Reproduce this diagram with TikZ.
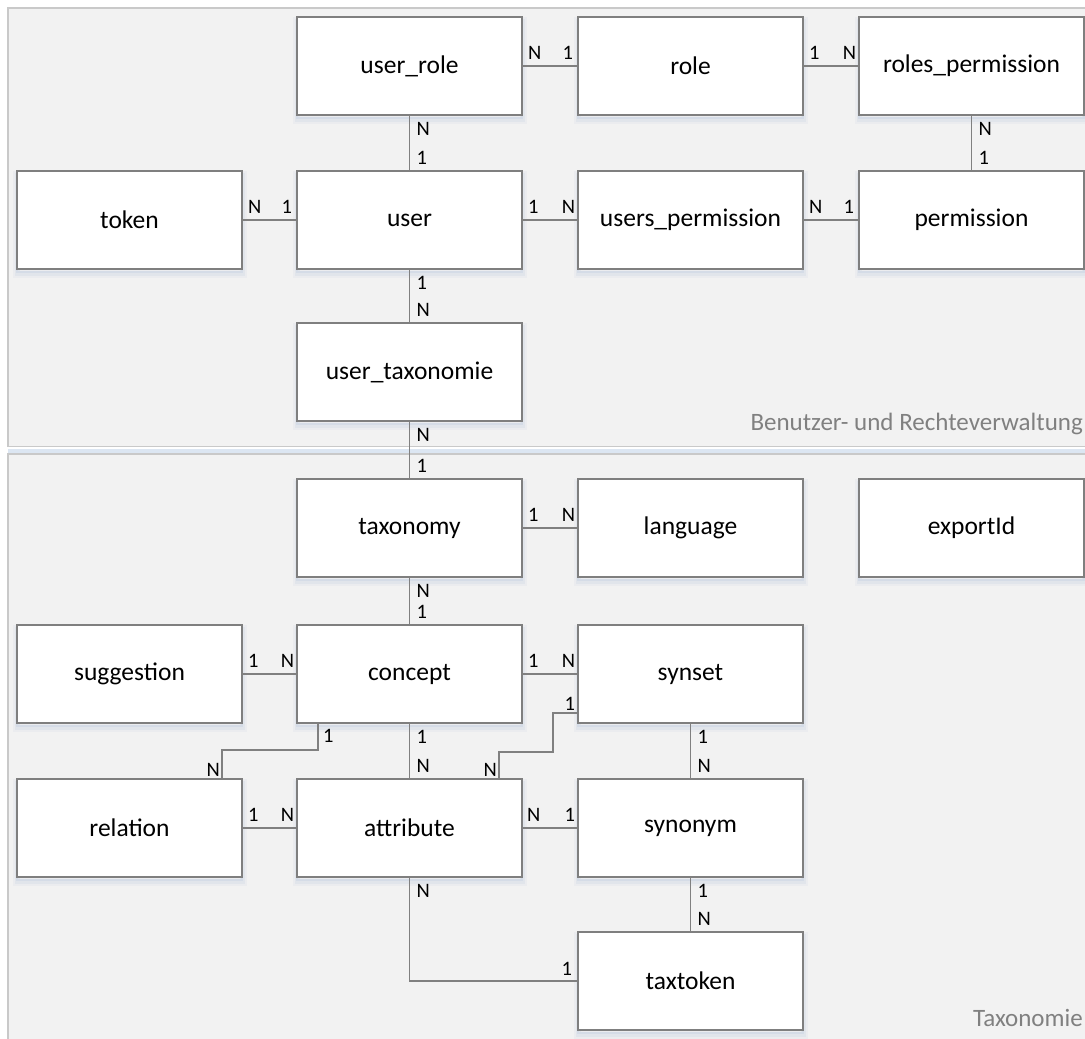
\documentclass[tikz,border=0pt]{standalone}
\usepackage{fontspec}
\setmainfont{Carlito}
\definecolor{panelfill}{HTML}{F2F2F2}
\definecolor{panelline}{HTML}{C9C9C9}
\definecolor{sepblue}{HTML}{DCE6F2}
\definecolor{boxline}{HTML}{7F7F7F}
\definecolor{connline}{HTML}{808080}
\definecolor{shadowcol}{HTML}{8FAAD0}
\definecolor{captiongray}{HTML}{808080}
\begin{document}
\begin{tikzpicture}[x=1pt,y=-1pt,
  boxshadow/.style={
    preaction={draw=shadowcol, line width=9pt, draw opacity=0.07, transform canvas={yshift=-4pt}},
    preaction={draw=shadowcol, line width=5pt, draw opacity=0.10, transform canvas={yshift=-4pt}},
    preaction={draw=shadowcol, line width=2pt, draw opacity=0.14, transform canvas={yshift=-3pt}}},
  entity/.style={boxshadow, rectangle, draw=boxline, line width=1.6pt, fill=white,
    minimum width=225pt, minimum height=98pt, inner sep=0pt,
    font=\fontsize{25.5}{30}\selectfont},
  conn/.style={draw=connline, line width=1.8pt},
  lbl/.style={inner sep=0pt, font=\fontsize{20.5}{24}\selectfont},
  caption/.style={inner sep=0pt, text=captiongray, font=\fontsize{25}{30}\selectfont}]

\clip (0,0) rectangle (1085,1039);
\fill[white] (0,0) rectangle (1085,1039);

% two grouping panels with the thin blue divider between them
\draw[draw=panelline, fill=panelfill, line width=1.5pt] (8,8) rectangle (1110,446.5);
\fill[sepblue] (8,448.5) rectangle (1110,452.5);
\draw[draw=panelline, fill=panelfill, line width=1.5pt] (8,454) rectangle (1110,1070);

% entities: user and rights administration
\node[entity] (userrole) at (409.5,66) {user\_role};
\node[entity] (role) at (690.5,66) {role};
\node[entity] (rolesperm) at (971.5,66) {roles\_permission};
\node[entity] (token) at (129.5,220) {token};
\node[entity] (user) at (409.5,220) {user};
\node[entity] (usersperm) at (690.5,220) {users\_permission};
\node[entity] (permission) at (971.5,220) {permission};
\node[entity] (usertax) at (409.5,372) {user\_taxonomie};

% entities: taxonomy
\node[entity] (taxonomy) at (409.5,528) {taxonomy};
\node[entity] (language) at (690.5,528) {language};
\node[entity] (exportid) at (971.5,528) {exportId};
\node[entity] (suggestion) at (129.5,674) {suggestion};
\node[entity] (concept) at (409.5,674) {concept};
\node[entity] (synset) at (690.5,674) {synset};
\node[entity] (relation) at (129.5,828) {relation};
\node[entity] (attribute) at (409.5,828) {attribute};
\node[entity] (synonym) at (690.5,828) {synonym};
\node[entity] (taxtoken) at (690.5,981) {taxtoken};

% straight relationships
\draw[conn] (userrole) -- (role);
\draw[conn] (role) -- (rolesperm);
\draw[conn] (rolesperm) -- (permission);
\draw[conn] (userrole) -- (user);
\draw[conn] (token) -- (user);
\draw[conn] (user) -- (usersperm);
\draw[conn] (usersperm) -- (permission);
\draw[conn] (user) -- (usertax);
\draw[conn] (usertax) -- (taxonomy);
\draw[conn] (taxonomy) -- (language);
\draw[conn] (taxonomy) -- (concept);
\draw[conn] (suggestion) -- (concept);
\draw[conn] (concept) -- (synset);
\draw[conn] (concept) -- (attribute);
\draw[conn] (synset) -- (synonym);
\draw[conn] (relation) -- (attribute);
\draw[conn] (attribute) -- (synonym);
\draw[conn] (synonym) -- (taxtoken);

% stepped relationships
\coordinate (crA) at ([xshift=-91.5pt]concept.south);
\coordinate (crB) at ([xshift=92.5pt]relation.north);
\coordinate (crY) at (0,750);
\draw[conn] (crA) -- (crA |- crY) -- (crB |- crY) -- (crB);

\coordinate (saA) at ([yshift=-39pt]synset.west);
\coordinate (saB) at ([xshift=89.5pt]attribute.north);
\coordinate (saX) at (553,0);
\coordinate (saY) at (0,752);
\draw[conn] (saA) -- (saX |- saA) -- (saX |- saY) -- (saB |- saY) -- (saB);

\draw[conn] (attribute.south) |- (taxtoken.west);

% cardinalities on horizontal links
\node[lbl, anchor=south west] (c01) at ([xshift=5pt,yshift=6pt]userrole.east) {N};
\node[lbl, anchor=south east] (c02) at ([xshift=-4pt,yshift=6pt]role.west) {1};
\node[lbl, anchor=south west] (c03) at ([xshift=5pt,yshift=6pt]role.east) {1};
\node[lbl, anchor=south east] (c04) at ([xshift=-2pt,yshift=6pt]rolesperm.west) {N};
\node[lbl, anchor=south west] (c05) at ([xshift=5pt,yshift=6pt]token.east) {N};
\node[lbl, anchor=south east] (c06) at ([xshift=-4pt,yshift=6pt]user.west) {1};
\node[lbl, anchor=south west] (c07) at ([xshift=5pt,yshift=6pt]user.east) {1};
\node[lbl, anchor=south east] (c08) at ([xshift=-2pt,yshift=6pt]usersperm.west) {N};
\node[lbl, anchor=south west] (c09) at ([xshift=5pt,yshift=6pt]usersperm.east) {N};
\node[lbl, anchor=south east] (c10) at ([xshift=-4pt,yshift=6pt]permission.west) {1};
\node[lbl, anchor=south west] (c11) at ([xshift=5pt,yshift=6pt]taxonomy.east) {1};
\node[lbl, anchor=south east] (c12) at ([xshift=-2pt,yshift=6pt]language.west) {N};
\node[lbl, anchor=south west] (c13) at ([xshift=5pt,yshift=6pt]suggestion.east) {1};
\node[lbl, anchor=south east] (c14) at ([xshift=-2pt,yshift=6pt]concept.west) {N};
\node[lbl, anchor=south west] (c15) at ([xshift=5pt,yshift=6pt]concept.east) {1};
\node[lbl, anchor=south east] (c16) at ([xshift=-2pt,yshift=6pt]synset.west) {N};
\node[lbl, anchor=south west] (c17) at ([xshift=5pt,yshift=6pt]relation.east) {1};
\node[lbl, anchor=south east] (c18) at ([xshift=-2pt,yshift=6pt]attribute.west) {N};
\node[lbl, anchor=south west] (c19) at ([xshift=4pt,yshift=6pt]attribute.east) {N};
\node[lbl, anchor=south east] (c20) at ([xshift=-2pt,yshift=6pt]synonym.west) {1};

% cardinalities on vertical links
\node[lbl, anchor=north west] (c21) at ([xshift=7pt,yshift=-6pt]userrole.south) {N};
\node[lbl, anchor=south west] (c22) at ([xshift=7pt,yshift=6pt]user.north) {1};
\node[lbl, anchor=north west] (c23) at ([xshift=7pt,yshift=-6pt]rolesperm.south) {N};
\node[lbl, anchor=south west] (c24) at ([xshift=7pt,yshift=6pt]permission.north) {1};
\node[lbl, anchor=north west] (c25) at ([xshift=7pt,yshift=-6pt]user.south) {1};
\node[lbl, anchor=south west] (c26) at ([xshift=7pt,yshift=6pt]usertax.north) {N};
\node[lbl, anchor=north west] (c27) at ([xshift=7pt,yshift=-6pt]usertax.south) {N};
\node[lbl, anchor=south west] (c28) at ([xshift=7pt,yshift=6pt]taxonomy.north) {1};
\node[lbl, anchor=north west] (c29) at ([xshift=7pt,yshift=-6pt]taxonomy.south) {N};
\node[lbl, anchor=south west] (c30) at ([xshift=7pt,yshift=6pt]concept.north) {1};
\node[lbl, anchor=north west] (c31) at ([xshift=7pt,yshift=-6pt]concept.south) {1};
\node[lbl, anchor=south west] (c32) at ([xshift=7pt,yshift=6pt]attribute.north) {N};
\node[lbl, anchor=north west] (c33) at ([xshift=7pt,yshift=-6pt]synset.south) {1};
\node[lbl, anchor=south west] (c34) at ([xshift=7pt,yshift=6pt]synonym.north) {N};
\node[lbl, anchor=north west] (c35) at ([xshift=7pt,yshift=-6pt]synonym.south) {1};
\node[lbl, anchor=south west] (c36) at ([xshift=7pt,yshift=6pt]taxtoken.north) {N};

% cardinalities on stepped links
\node[lbl, anchor=north west] (c37) at ([xshift=5pt,yshift=-5pt]crA) {1};
\node[lbl, anchor=south east] (c38) at ([xshift=-2pt,yshift=2pt]crB) {N};
\node[lbl, anchor=south east] (c39) at ([xshift=-2pt,yshift=2pt]saA) {1};
\node[lbl, anchor=south east] (c40) at ([xshift=-2pt,yshift=2pt]saB) {N};
\node[lbl, anchor=north west] (c41) at ([xshift=7pt,yshift=-6pt]attribute.south) {N};
\node[lbl, anchor=south east] (c42) at ([xshift=-5pt,yshift=5pt]taxtoken.west) {1};

% panel captions
\node[caption, anchor=base east] (captop) at (1083,430) {Benutzer- und Rechteverwaltung};
\node[caption, anchor=base east] (capbot) at (1083,1026) {Taxonomie};
\end{tikzpicture}
\end{document}
